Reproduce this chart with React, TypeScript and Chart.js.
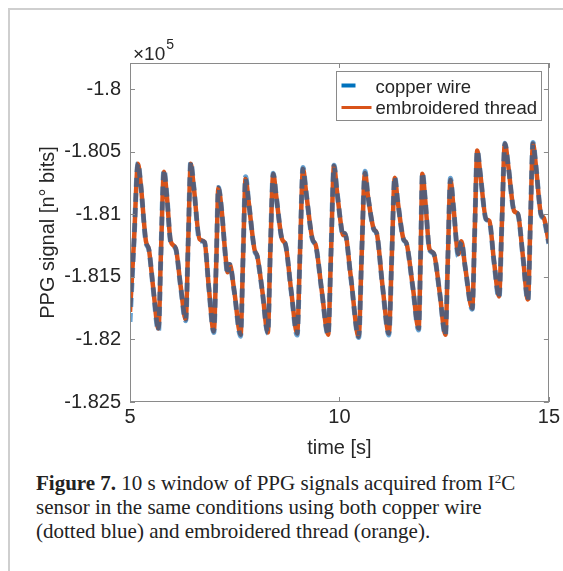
import React, { useEffect, useRef } from "react";
import { Chart, registerables } from "chart.js";

Chart.register(...registerables);

// ---- data (time in s, PPG signal in bits) ----
const timeS = [
  5.0, 5.095, 5.19, 5.26, 5.38, 5.45, 5.55, 5.68, 5.74, 5.81, 5.88, 5.97, 6.09, 6.21, 6.33, 6.39, 6.45, 6.52,
  6.66, 6.78, 6.88, 7.0, 7.06, 7.11, 7.19, 7.28, 7.33, 7.38, 7.49, 7.64, 7.7, 7.76, 7.83, 7.97, 8.04, 8.16,
  8.29, 8.35, 8.42, 8.49, 8.63, 8.71, 8.85, 8.99, 9.06, 9.13, 9.2, 9.35, 9.44, 9.58, 9.73, 9.8, 9.87, 9.94,
  10.06, 10.09, 10.13, 10.27, 10.46, 10.53, 10.61, 10.68, 10.82, 10.89, 11.03, 11.18, 11.25, 11.32, 11.39,
  11.53, 11.6, 11.75, 11.89, 11.94, 11.98, 12.05, 12.15, 12.25, 12.39, 12.53, 12.59, 12.65, 12.72, 12.84,
  12.91, 13.0, 13.17, 13.23, 13.29, 13.36, 13.5, 13.58, 13.69, 13.81, 13.88, 13.95, 14.03, 14.17, 14.26,
  14.38, 14.5, 14.56, 14.62, 14.69, 14.81, 14.88, 15.0,
];

const threadValues = [
  -181780, -181214, -180595, -180772, -181214, -181278, -181576, -181913, -181294, -180659, -180852, -181214,
  -181270, -181576, -181841, -181214, -180595, -180772, -181198, -181222, -181576, -181937, -181375, -180788,
  -180973, -181334, -181463, -181399, -181616, -181962, -181334, -180715, -180892, -181278, -181334, -181616,
  -181945, -181294, -180675, -180852, -181198, -181238, -181616, -181953, -181294, -180635, -180812, -181190,
  -181254, -181616, -181962, -181294, -180611, -180812, -181134, -181166, -181150, -181495, -181978, -181334,
  -180667, -180852, -181117, -181150, -181576, -181953, -181334, -180707, -180892, -181198, -181230, -181576,
  -181913, -181294, -180675, -180892, -181278, -181310, -181616, -181962, -181334, -180724, -180933, -181318,
  -181214, -181415, -181753, -181134, -180490, -180667, -181037, -181053, -181375, -181656, -181053, -180434,
  -180611, -180973, -180997, -181334, -181680, -181053, -180434, -180611, -180997, -181029, -181230,
];

const copperValues = [
  -181860, -181220, -180590, -180775, -181222, -181282, -181580, -181935, -181290, -180640, -180850, -181220,
  -181275, -181580, -181850, -181210, -180580, -180770, -181205, -181225, -181580, -181945, -181370, -180785,
  -180975, -181340, -181480, -181400, -181620, -181975, -181330, -180700, -180890, -181282, -181340, -181620,
  -181950, -181290, -180672, -180850, -181200, -181240, -181620, -181965, -181290, -180625, -180810, -181195,
  -181258, -181620, -181965, -181290, -180608, -180810, -181140, -181175, -181152, -181500, -181985, -181330,
  -180655, -180850, -181120, -181155, -181580, -181965, -181330, -180700, -180890, -181200, -181235, -181580,
  -181925, -181290, -180665, -180890, -181282, -181315, -181620, -181968, -181330, -180712, -180930, -181335,
  -181218, -181418, -181758, -181130, -180488, -180665, -181040, -181058, -181380, -181670, -181050, -180432,
  -180610, -180975, -181000, -181338, -181690, -181050, -180425, -180610, -181000, -181040, -181235,
];

const xTicks = [5, 10, 15];
const yTicks = [-182500, -182000, -181500, -181000, -180500, -180000];
const xRange = [5, 15];
const yRange = [-182500, -179790];

const seriesNames = ["copper wire", "embroidered thread"];
const BLUE = "#0072BD";
const BLUE_TRANSLUCENT = "rgba(0,100,180,0.6)";
const ORANGE = "#D95319";
const AXIS = "#8a8a8a";
const TEXT = "#262626";
const FONT = '"Liberation Sans", Arial, Helvetica, sans-serif';

const overlayPlugin = {
  id: "matlabOverlay",
  afterDraw(chart: any) {
    const { ctx, chartArea: a, scales } = chart;
    const xs = scales.x;
    const ys = scales.y;
    const TICK = 5;
    ctx.save();
    // box
    ctx.strokeStyle = AXIS;
    ctx.lineWidth = 1;
    ctx.strokeRect(Math.round(a.left) + 0.5, Math.round(a.top) + 0.5, Math.round(a.right - a.left) - 1, Math.round(a.bottom - a.top) - 1);
    // inward ticks
    ctx.beginPath();
    for (const v of yTicks) {
      const y = Math.round(ys.getPixelForValue(v)) + 0.5;
      ctx.moveTo(a.left, y);
      ctx.lineTo(a.left + TICK, y);
      ctx.moveTo(a.right, y);
      ctx.lineTo(a.right - TICK, y);
    }
    for (const v of xTicks) {
      const x = Math.round(xs.getPixelForValue(v)) + 0.5;
      ctx.moveTo(x, a.bottom);
      ctx.lineTo(x, a.bottom - TICK);
      ctx.moveTo(x, a.top);
      ctx.lineTo(x, a.top + TICK);
    }
    ctx.stroke();

    // exponent label
    ctx.fillStyle = TEXT;
    ctx.textBaseline = "alphabetic";
    ctx.textAlign = "left";
    ctx.font = `19px ${FONT}`;
    const base = "\u00d710";
    ctx.fillText(base, a.left + 3, a.top - 3);
    const w = ctx.measureText(base).width;
    ctx.font = `14px ${FONT}`;
    ctx.fillText("5", a.left + 3 + w + 1, a.top - 14);

    // legend
    const bw = 205;
    const bh = 49;
    const bx = Math.round(a.right - 8 - bw) + 0.5;
    const by = Math.round(a.top + 8) + 0.5;
    ctx.fillStyle = "#ffffff";
    ctx.fillRect(bx, by, bw, bh);
    ctx.strokeStyle = AXIS;
    ctx.lineWidth = 1;
    ctx.strokeRect(bx, by, bw, bh);

    ctx.lineCap = "butt";
    ctx.strokeStyle = BLUE;
    ctx.lineWidth = 4;
    ctx.beginPath();
    ctx.moveTo(bx + 5, by + 14);
    ctx.lineTo(bx + 19, by + 14);
    ctx.stroke();

    ctx.strokeStyle = ORANGE;
    ctx.lineWidth = 3;
    ctx.beginPath();
    ctx.moveTo(bx + 5, by + 36);
    ctx.lineTo(bx + 35, by + 36);
    ctx.stroke();

    ctx.fillStyle = TEXT;
    ctx.font = `18.5px ${FONT}`;
    ctx.textBaseline = "middle";
    ctx.fillText(seriesNames[0], bx + 39, by + 16);
    ctx.fillText(seriesNames[1], bx + 39, by + 37);
    ctx.restore();
  },
};

const CANVAS_LEFT = 8;
const CANVAS_TOP = 8;

function PPGChart() {
  const ref = useRef<HTMLCanvasElement | null>(null);
  useEffect(() => {
    if (!ref.current) return;
    const chart = new Chart(ref.current, {
      type: "line",
      data: {
        datasets: [
          {
            label: seriesNames[0],
            data: timeS.map((t, i) => ({ x: t, y: copperValues[i] })),
            borderColor: BLUE_TRANSLUCENT,
            borderWidth: 5,
            borderDash: [9, 6],
            pointRadius: 0,
            cubicInterpolationMode: "monotone",
            fill: false,
          },
          {
            label: seriesNames[1],
            data: timeS.map((t, i) => ({ x: t, y: threadValues[i] })),
            borderColor: ORANGE,
            borderWidth: 4.5,
            pointRadius: 0,
            cubicInterpolationMode: "monotone",
            fill: false,
          },
        ],
      },
      options: {
        animation: false,
        responsive: false,
        maintainAspectRatio: false,
        layout: { padding: { left: 0, right: 12, top: 55, bottom: 1 } },
        plugins: { legend: { display: false }, tooltip: { enabled: false } },
        scales: {
          x: {
            type: "linear",
            min: xRange[0],
            max: xRange[1],
            afterBuildTicks: (s: any) => {
              s.ticks = xTicks.map((v) => ({ value: v }));
            },
            afterFit: (s: any) => {
              s.height = 58;
            },
            grid: { display: false, drawTicks: false },
            border: { display: false },
            ticks: {
              padding: 3,
              color: TEXT,
              font: { family: FONT, size: 20 },
              maxRotation: 0,
              autoSkip: false,
            },
            title: {
              display: true,
              text: "time [s]",
              color: TEXT,
              font: { family: FONT, size: 20 },
              padding: { top: 0, bottom: 0 },
            },
          },
          y: {
            type: "linear",
            min: yRange[0],
            max: yRange[1],
            afterBuildTicks: (s: any) => {
              s.ticks = yTicks.map((v) => ({ value: v }));
            },
            afterFit: (s: any) => {
              s.width = 122;
            },
            grid: { display: false, drawTicks: false },
            border: { display: false },
            ticks: {
              padding: 9,
              color: TEXT,
              font: { family: FONT, size: 20 },
              autoSkip: false,
              callback: (v: any) => String(+(Number(v) / 1e5).toFixed(3)),
            },
            title: {
              display: true,
              text: "PPG signal [n\u00b0 bits]",
              color: TEXT,
              font: { family: FONT, size: 20 },
              padding: { top: 28, bottom: 0 },
            },
          },
        },
      },
      plugins: [overlayPlugin],
    });
    return () => chart.destroy();
  }, []);
  return (
    <canvas
      ref={ref}
      width={555}
      height={453}
      style={{ position: "absolute", left: CANVAS_LEFT, top: CANVAS_TOP }}
    />
  );
}

export default function App() {
  return (
    <div
      style={{
        position: "fixed",
        left: 0,
        top: 0,
        width: 563,
        height: 571,
        overflow: "hidden",
        background: "#fff",
      }}
    >
      <div
        style={{
          position: "absolute",
          left: 8,
          top: 8,
          width: 600,
          height: 600,
          borderLeft: "2px solid #cfcfcf",
          borderTop: "2px solid #cfcfcf",
          boxSizing: "border-box",
        }}
      />
      <PPGChart />
      <div
        style={{
          position: "absolute",
          left: 36,
          top: 471,
          fontFamily: '"Liberation Serif", "Times New Roman", serif',
          fontSize: 21,
          lineHeight: "24px",
          color: "#222",
          whiteSpace: "nowrap",
        }}
      >
        <div>
          <b>Figure 7.</b> 10 s window of PPG signals acquired from I
          <sup style={{ fontSize: 13, verticalAlign: "top", lineHeight: "16px" }}>2</sup>C
        </div>
        <div>sensor in the same conditions using both copper wire</div>
        <div>(dotted blue) and embroidered thread (orange).</div>
      </div>
    </div>
  );
}
